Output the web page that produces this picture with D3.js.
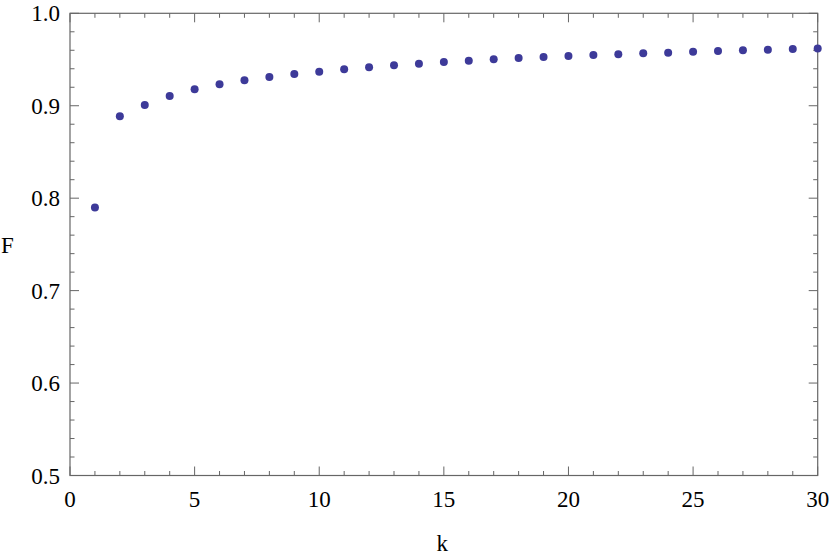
<!DOCTYPE html>
<html>
<head>
<meta charset="utf-8">
<script src="https://cdn.jsdelivr.net/npm/d3@7"></script>
<style>
  body { margin: 0; background: #fff; }
  .frame { fill: none; stroke: #666; stroke-width: 1.2px; }
  .tick { stroke: #666; stroke-width: 1px; }
  .dot { fill: #3d3a99; }
</style>
</head>
<body>
<script>
// values
const kValues = d3.range(1, 31);
const fValues = [
  0.790, 0.8886, 0.9008, 0.9105, 0.9178, 0.9232, 0.9275, 0.9311, 0.9343, 0.9368,
  0.9394, 0.9416, 0.9437, 0.9455, 0.9473, 0.9487, 0.9502, 0.9516, 0.9527, 0.9538,
  0.9549, 0.9556, 0.9567, 0.9574, 0.9585, 0.9592, 0.9600, 0.9606, 0.9614, 0.9620
];
const xMajor = [0, 5, 10, 15, 20, 25, 30];
const yMajor = [0.5, 0.6, 0.7, 0.8, 0.9, 1.0];
const xMinor = d3.range(0, 31, 1);
const yMinor = d3.range(0, 26).map(i => 0.5 + i * 0.02);

const width = 830, height = 556;
const plotLeft = 70, plotRight = 817.7, plotTop = 13.3, plotBottom = 475.5;
const font = "'Liberation Serif', 'Times New Roman', serif";
const fontSize = "23px";

const x = d3.scaleLinear().domain([0, 30]).range([plotLeft, plotRight]);
const y = d3.scaleLinear().domain([0.5, 1.0]).range([plotBottom, plotTop]);

const svg = d3.select("body").append("svg")
  .attr("width", width)
  .attr("height", height);

// ticks point inward on all four sides
const major = 9, minor = 4.5;
const ticks = svg.append("g");
xMinor.forEach(v => {
  const len = xMajor.includes(v) ? major : minor;
  ticks.append("line").attr("class", "tick")
    .attr("x1", x(v)).attr("x2", x(v)).attr("y1", plotBottom).attr("y2", plotBottom - len);
  ticks.append("line").attr("class", "tick")
    .attr("x1", x(v)).attr("x2", x(v)).attr("y1", plotTop).attr("y2", plotTop + len);
});
yMinor.forEach(v => {
  const isMajor = yMajor.some(m => Math.abs(m - v) < 1e-9);
  const len = isMajor ? major : minor;
  ticks.append("line").attr("class", "tick")
    .attr("x1", plotLeft).attr("x2", plotLeft + len).attr("y1", y(v)).attr("y2", y(v));
  ticks.append("line").attr("class", "tick")
    .attr("x1", plotRight).attr("x2", plotRight - len).attr("y1", y(v)).attr("y2", y(v));
});

svg.append("rect").attr("class", "frame")
  .attr("x", plotLeft).attr("y", plotTop)
  .attr("width", plotRight - plotLeft).attr("height", plotBottom - plotTop);

const labels = svg.append("g")
  .style("font-family", font)
  .style("font-size", fontSize)
  .style("fill", "#000");

// tick labels
labels.append("g").selectAll("text")
  .data(xMajor).enter().append("text")
  .attr("x", d => x(d))
  .attr("y", 507)
  .attr("text-anchor", "middle")
  .text(d => d);

labels.append("g").selectAll("text")
  .data(yMajor).enter().append("text")
  .attr("x", 60)
  .attr("y", d => y(d) + 8)
  .attr("text-anchor", "end")
  .text(d => d3.format(".1f")(d));

// axis labels
labels.append("text")
  .attr("x", (plotLeft + plotRight) / 2 - 1.5)
  .attr("y", 551)
  .attr("text-anchor", "middle")
  .text("k");

labels.append("text")
  .attr("x", 1)
  .attr("y", 253)
  .text("F");

// points
svg.append("g").selectAll("circle")
  .data(kValues).enter().append("circle")
  .attr("class", "dot")
  .attr("cx", d => x(d))
  .attr("cy", (d, i) => y(fValues[i]))
  .attr("r", 4);
</script>
</body>
</html>
